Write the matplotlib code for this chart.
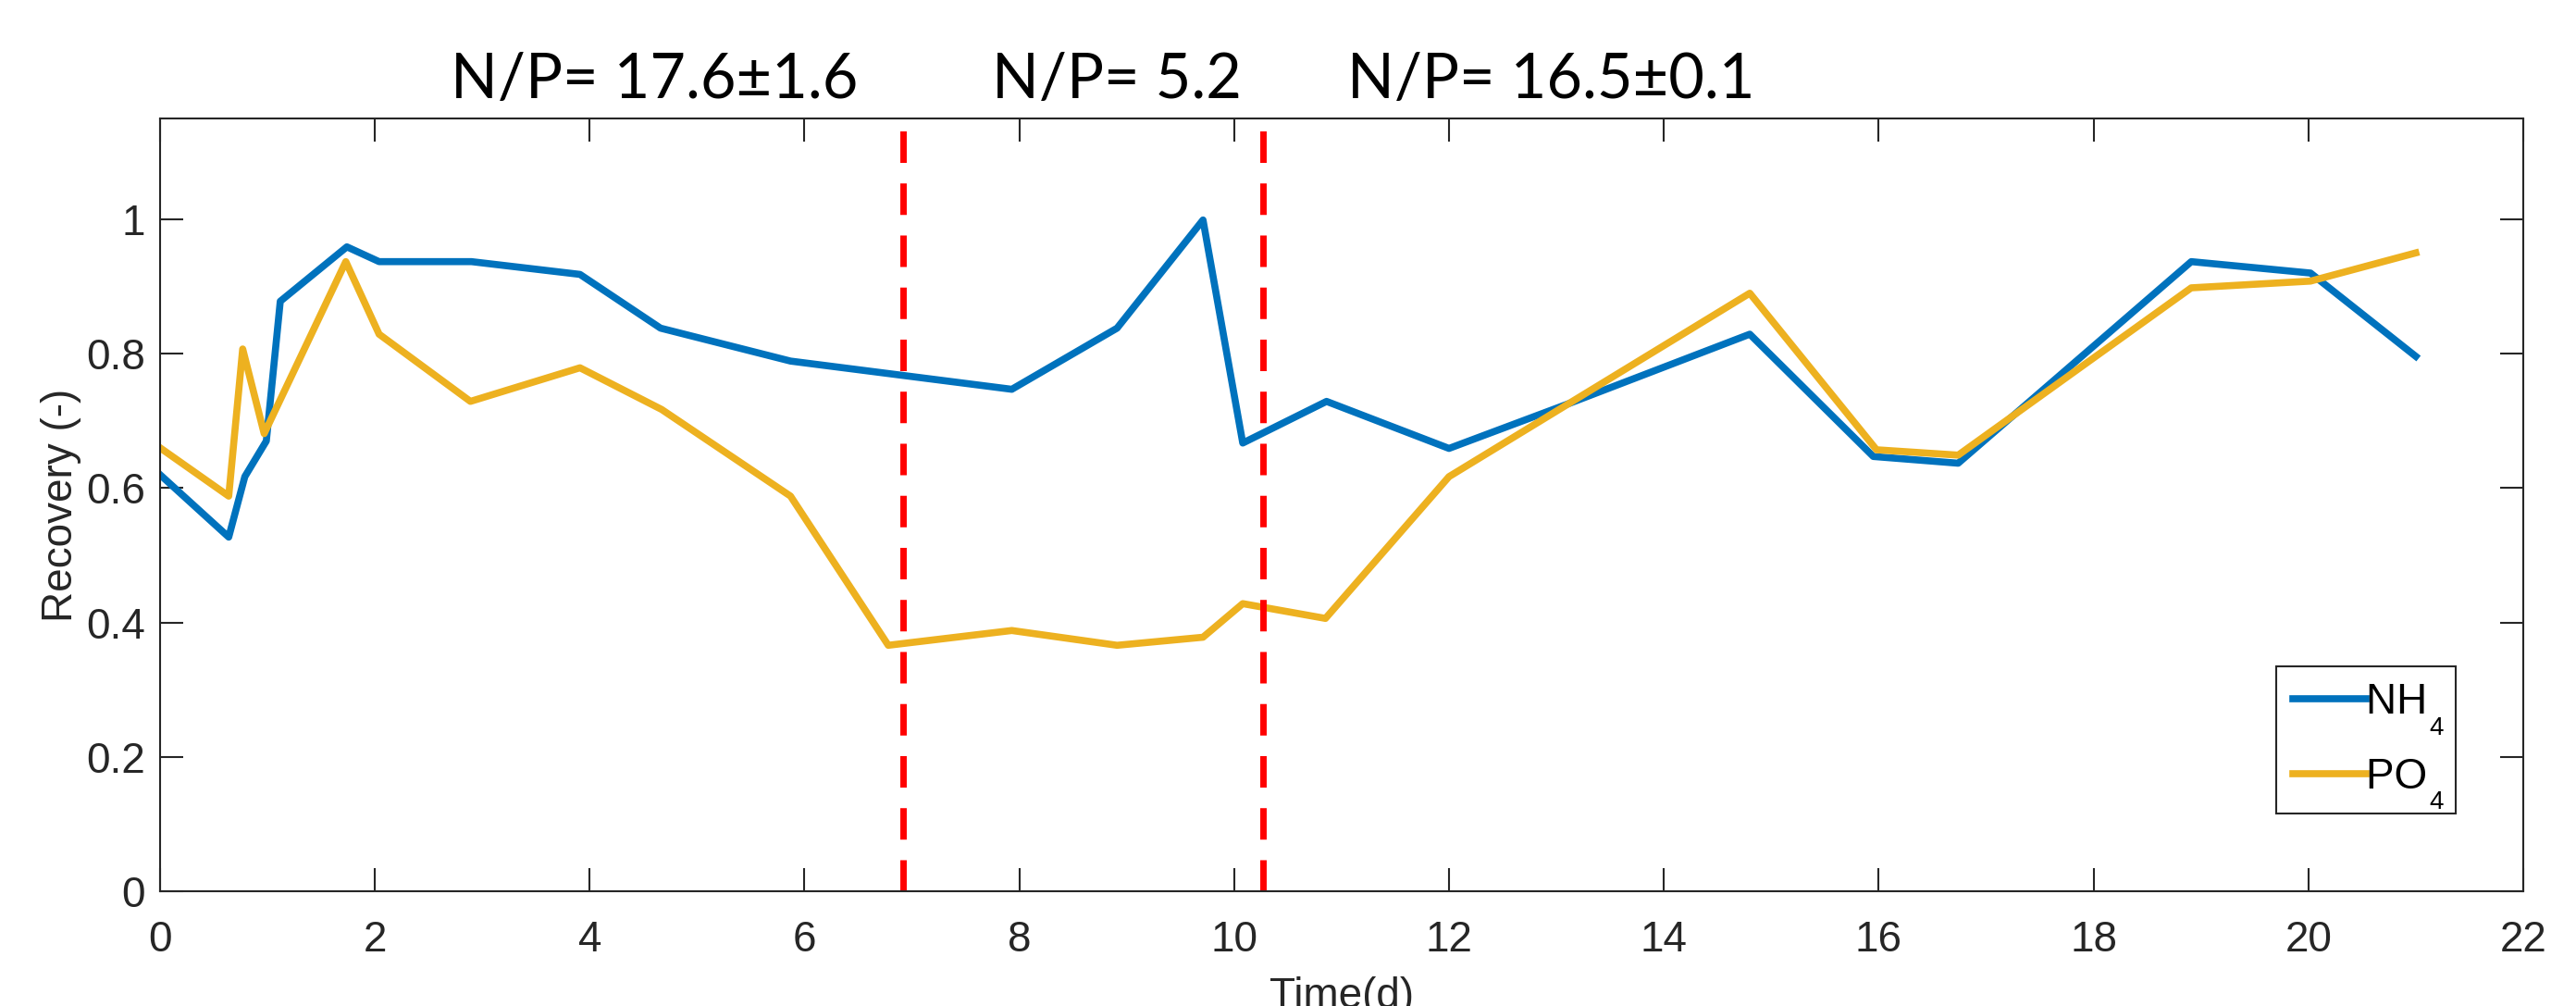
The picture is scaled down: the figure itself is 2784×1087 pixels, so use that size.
import matplotlib
matplotlib.use('Agg')
import matplotlib.pyplot as plt
from matplotlib.font_manager import FontProperties

# NH4 recovery
t_nh4 = [0, 0.64, 0.79, 0.99, 1.12, 1.74, 2.04, 2.9, 3.91, 4.66, 5.87, 7.93, 8.91,
         9.71, 10.08, 10.86, 12.0, 13.12, 14.8, 15.95, 16.74, 18.91, 20.02, 21.0]
nh4 = [0.62, 0.527, 0.617, 0.67, 0.878, 0.959, 0.937, 0.937, 0.918, 0.838, 0.789, 0.747, 0.838,
       0.999, 0.667, 0.729, 0.659, 0.726, 0.829, 0.647, 0.637, 0.937, 0.92, 0.796]

# PO4 recovery
t_po4 = [0, 0.64, 0.77, 0.97, 1.73, 2.04, 2.89, 3.91, 4.67, 5.87, 6.78, 7.93, 8.91,
         9.71, 10.08, 10.85, 12.0, 14.8, 15.98, 16.74, 18.91, 20.02, 21.0]
po4 = [0.66, 0.588, 0.807, 0.681, 0.937, 0.829, 0.729, 0.779, 0.717, 0.588, 0.366, 0.388, 0.366,
       0.378, 0.428, 0.406, 0.617, 0.89, 0.657, 0.649, 0.898, 0.908, 0.95]

phase_bounds = [6.92, 10.27]
phase_labels = ['N/P= 17.6\u00b11.6', 'N/P= 5.2', 'N/P= 16.5\u00b10.1']
phase_label_x = [4.6, 8.91, 12.95]

plt.rcParams['font.family'] = ['Liberation Sans', 'DejaVu Sans']
dark = '#262626'

fig = plt.figure(figsize=(27.84, 10.87), dpi=100)
ax = fig.add_axes([0.0621, 0.1141, 0.9174, 0.7681])

# labels get a trailing space to leave some room for the subscript
ax.plot(t_nh4, nh4, color='#0072BD', lw=5.5, label='NH ')
ax.plot(t_po4, po4, color='#EDB120', lw=5.5, label='PO ')

for xb in phase_bounds:
    ax.axvline(xb, color='#FF0000', lw=5, dashes=(4.9, 3.2))

for xl, txt in zip(phase_label_x, phase_labels):
    ax.text(xl, 1.026, txt, transform=ax.get_xaxis_transform(), ha='center',
            va='baseline', fontsize=48, family=['Lato', 'DejaVu Sans'])

ax.set_xlim(0, 22)
ax.set_ylim(0, 1.15)
ax.set_xticks(range(0, 23, 2))
ax.set_yticks([0, 0.2, 0.4, 0.6, 0.8, 1.0])
ax.set_yticklabels(['0', '0.2', '0.4', '0.6', '0.8', '1'])

for s in ax.spines.values():
    s.set_color(dark)
    s.set_linewidth(1.5)
ax.tick_params(direction='in', length=18, width=1.5, color=dark,
               top=True, right=True, labelsize=33, labelcolor=dark)
ax.tick_params(axis='x', pad=22)
ax.tick_params(axis='y', pad=11.5)

ax.set_ylabel('Recovery (-)', fontsize=33, color=dark)
ax.set_xlabel('Time(d)', fontsize=33, color=dark)
ax.yaxis.set_label_coords(-0.0332, 0.5)
ax.xaxis.set_label_coords(0.5, -0.110)

leg_size = 33
leg = ax.legend(loc='lower right', bbox_to_anchor=(0.9714, 0.1006), borderaxespad=0,
                fontsize=leg_size, frameon=True, fancybox=False, handlelength=1.72,
                handletextpad=0.02, borderpad=0.38, labelspacing=0.79)
leg.get_frame().set_edgecolor(dark)
leg.get_frame().set_linewidth(1.5)
leg.get_frame().set_alpha(1)

# subscripts "4" placed right after NH / PO, dropped below the baseline
fig.canvas.draw()
renderer = fig.canvas.get_renderer()
fp = FontProperties(family='Liberation Sans', size=leg_size)
for t in leg.get_texts():
    w, h, d = renderer.get_text_width_height_descent(t.get_text().strip(), fp, ismath=False)
    ax.annotate('4', xy=(0, 0), xycoords=t.get_transform(),
                xytext=(w * 72 / fig.dpi + 1.5, -16), textcoords='offset points',
                ha='left', va='baseline', fontsize=20, zorder=10, annotation_clip=False)

fig.savefig('out.png', dpi=100)
